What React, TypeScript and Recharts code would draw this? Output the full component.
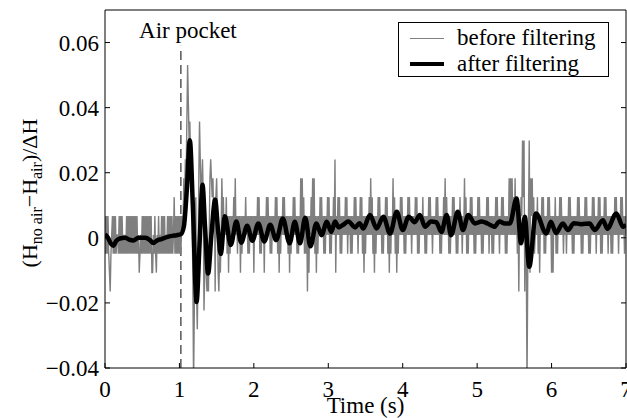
import { Legend, Line, LineChart, ReferenceLine, XAxis, YAxis } from "recharts";

const FONT = '"Liberation Serif", "Times New Roman", Times, serif';
const FONT_SIZE = 23;

const xTicks = [0, 1, 2, 3, 4, 5, 6, 7];
const yTicks = [-0.04, -0.02, 0, 0.02, 0.04, 0.06];
const xDomain = [0, 7];
const yDomain = [-0.04, 0.07];

const seriesNames = ["before filtering", "after filtering"];

const airPocketTime = 1.02;
const airPocketTop = 0.059;

// filtered signal, read at its turning points
const filteredTimes = [
  0, 0.04, 0.08, 0.11, 0.15, 0.2, 0.27, 0.33, 0.38, 0.45, 0.54, 0.6, 0.65, 0.7, 0.76, 0.83, 0.9, 0.96,
  1.02, 1.06, 1.1, 1.14, 1.18, 1.23, 1.27, 1.31, 1.345, 1.385, 1.43, 1.48, 1.52, 1.555, 1.61, 1.69,
  1.765, 1.83, 1.91, 1.98, 2.06, 2.14, 2.22, 2.3, 2.39, 2.48, 2.55, 2.62, 2.69, 2.76, 2.84, 2.91, 2.98,
  3.04, 3.09, 3.14, 3.2, 3.27, 3.36, 3.42, 3.47, 3.56, 3.65, 3.74, 3.83, 3.92, 4.0, 4.08, 4.16, 4.23,
  4.3, 4.38, 4.45, 4.52, 4.59, 4.65, 4.74, 4.81, 4.88, 4.97, 5.06, 5.14, 5.23, 5.3, 5.37, 5.44, 5.53,
  5.59, 5.64, 5.7, 5.79, 5.93, 5.99, 6.06, 6.15, 6.22, 6.3, 6.4, 6.51, 6.58, 6.69, 6.75, 6.87, 6.96, 7.0,
];
const filteredValues = [
  0.0011, 0.0, -0.0018, -0.0024, -0.001, -0.0002, 0.0, -0.0006, -0.0008, 0.0, 0.0, -0.0006, -0.0016,
  -0.0008, -0.0004, 0.0002, 0.0006, 0.0008,
  0.0011, 0.0035, 0.015, 0.03, 0.01, -0.0197, -0.002, 0.0163, 0.003, -0.011, 0.001, 0.0117, 0.002,
  -0.005, 0.0066, -0.0022,
  0.005, -0.0015, 0.0037, -0.0009, 0.0044, -0.0011, 0.004, -0.0007, 0.0059, -0.0017, 0.0049, -0.0017,
  0.0062, -0.0026, 0.0044, 0.0008, 0.0049,
  0.0018, 0.005, 0.0032, 0.004, 0.005, 0.0032, 0.0045, 0.0029, 0.007, 0.0029, 0.0065, 0.0013, 0.008,
  0.0024, 0.0065, 0.0048, 0.007,
  0.0034, 0.005, 0.0048, 0.0018, 0.007, 0.0008, 0.008, 0.0024, 0.007, 0.0044, 0.005, 0.0044, 0.0034,
  0.005, 0.0044, 0.0044, 0.0121,
  -0.0017, 0.0065, -0.0089, 0.0075, 0.0013, 0.0049, 0.0015, 0.0044, 0.0024, 0.0045, 0.0042, 0.0044,
  0.0024, 0.0054, 0.0028, 0.0075, 0.0034, 0.004,
];

// unfiltered signal: one character per 0.01 s sample, the quantisation level
// '0'..'9' = levels 0..+9, 'a'..'h' = levels -1..-8
const rawLevelValues: Record<string, number> = {
  h: -0.0455, g: -0.0397, f: -0.0339, e: -0.0281, d: -0.0223, c: -0.0165, b: -0.0107, a: -0.0049,
  "0": 0.0009, "1": 0.0067, "2": 0.0125, "3": 0.0183, "4": 0.0241, "5": 0.0299, "6": 0.0357,
  "7": 0.0415, "8": 0.0473, "9": 0.0531,
};
const rawSeconds = [
  "1a1a1abca0 1a1a1a00a1 a1a1a0a0a1 a1a1a1a1a1 a1a1a0ba0a 1a1a1a1a1a 1a1bb0a1ab 0a1a0a1a1a 1a0a1a1a1a 1a02a1a1a1",
  "a1a1013243 69756431bh da2ceb3641 342db0bcbc 03432312c2 31bcab0312 0102a1b1a1 01020301a1 01b1a10102 01a1a10101",
  "b1010202a1 a101b10202 01a1a10102 02a1b1a102 020101a1b1 a1020201a1 a1030302a1 a1c1b10203 03a1b1a102 0201a1a102",
  "02a1a10204 b10202a1a1 010202a101 a1a1020201 a10202a1b1 a101020302 a1b1a10202 01a1a10202 a1b1a10302 a1b1a10202",
  "01a1a10202 01a1010202 a1a1010201 a1a1020201 a101020201 a1a1020302 01a1a10202 01a1a10201 a10302a1a1 020201a1a1",
  "020201a1a1 010202a101 a1a1020201 a1020201a1 a103030302 0302a1c102 1525c1ahb1 5b31302a01 02a1b10202 a1a1020201",
  "b1b102a1a1 020201a101 a1020201a1 a101020201 a1a1020201 a1a1020201 a10202a1a1 020201a101 a1a1020201 a1020201a1",
  "0",
];

const rawData = rawSeconds
  .join("")
  .replace(/ /g, "")
  .split("")
  .map((c, i) => ({ t: i / 100, v: rawLevelValues[c] }));

const filteredData = filteredTimes.map((t, i) => ({ t, v: filteredValues[i] }));

const formatY = (v: number) => (v === 0 ? "0" : (v < 0 ? "\u2212" : "") + Math.abs(v).toFixed(2));

const textStyle = { fontFamily: FONT };

const YLabel = ({ viewBox }: any) => {
  const x = viewBox.x + 37;
  const y = viewBox.y + viewBox.height / 2 + 4;
  return (
    <text x={x} y={y} transform={`rotate(-90 ${x} ${y})`} textAnchor="middle" style={textStyle} fontSize={22} fill="#000">
      (H
      <tspan fontSize={16} dy={5}>no air</tspan>
      <tspan dy={-5}>{"\u2212H"}</tspan>
      <tspan fontSize={16} dy={5}>air</tspan>
      <tspan dy={-5}>{")/\u0394H"}</tspan>
    </text>
  );
};

const XLabel = ({ viewBox }: any) => (
  <text x={viewBox.x + viewBox.width / 2} y={viewBox.y + 45} textAnchor="middle" style={textStyle} fontSize={FONT_SIZE} fill="#000">
    Time (s)
  </text>
);

const AirPocketLabel = ({ viewBox }: any) => (
  <text x={viewBox.x + 7} y={viewBox.y - 8} textAnchor="middle" style={textStyle} fontSize={FONT_SIZE} fill="#000">
    Air pocket
  </text>
);

const LegendBox = () => (
  <div style={{ width: 209, height: 53, border: "1px solid #000", background: "#fff", position: "relative", fontFamily: FONT, fontSize: FONT_SIZE }}>
    {seriesNames.map((name, i) => (
      <div key={name} style={{ position: "absolute", left: 0, top: 2 + i * 26, height: 26, display: "flex", alignItems: "center" }}>
        <div style={{ marginLeft: 11, width: 34, height: i === 0 ? 1 : 4, background: i === 0 ? "#808080" : "#000" }} />
        <span style={{ marginLeft: 13, color: "#000", whiteSpace: "nowrap" }}>{name}</span>
      </div>
    ))}
  </div>
);

const tickStyle = { fill: "#000", fontSize: FONT_SIZE, style: textStyle };

export default function App() {
  return (
    <div style={{ position: "absolute", left: 0, top: 0, background: "#fff", fontFamily: FONT }}>
      <LineChart width={627} height={418} margin={{ top: 9, right: 0, bottom: 20, left: 0 }} style={textStyle}>
        <XAxis
          dataKey="t"
          type="number"
          domain={xDomain}
          ticks={xTicks}
          interval={0}
          allowDataOverflow
          stroke="#000"
          tickSize={-5}
          tickMargin={18}
          tick={tickStyle}
          height={30}
          label={XLabel}
        />
        <XAxis
          xAxisId="top"
          orientation="top"
          type="number"
          domain={xDomain}
          ticks={xTicks}
          interval={0}
          allowDataOverflow
          stroke="#000"
          tickSize={-5}
          tickFormatter={() => ""}
          height={1}
        />
        <YAxis
          type="number"
          domain={yDomain}
          ticks={yTicks}
          interval={0}
          allowDataOverflow
          stroke="#000"
          tickSize={-5}
          tickMargin={11}
          tick={tickStyle}
          tickFormatter={formatY}
          width={105}
          label={YLabel}
        />
        <YAxis
          yAxisId="right"
          orientation="right"
          type="number"
          domain={yDomain}
          ticks={yTicks}
          interval={0}
          allowDataOverflow
          stroke="#000"
          tickSize={-5}
          tickFormatter={() => ""}
          width={1}
        />
        <ReferenceLine
          segment={[
            { x: airPocketTime, y: yDomain[0] },
            { x: airPocketTime, y: airPocketTop },
          ]}
          stroke="#000"
          strokeWidth={1}
          strokeDasharray="9 5"
          label={AirPocketLabel}
        />
        <Line
          data={rawData}
          dataKey="v"
          name={seriesNames[0]}
          type="linear"
          stroke="#7f7f7f"
          strokeWidth={1.4}
          dot={false}
          activeDot={false}
          isAnimationActive={false}
        />
        <Line
          data={filteredData}
          dataKey="v"
          name={seriesNames[1]}
          type="monotone"
          stroke="#000"
          strokeWidth={4.5}
          dot={false}
          activeDot={false}
          isAnimationActive={false}
        />
        <Legend
          layout="vertical"
          align="center"
          verticalAlign="middle"
          wrapperStyle={{ top: 22, left: 398, width: 211, height: 55 }}
          content={() => <LegendBox />}
        />
      </LineChart>
    </div>
  );
}
